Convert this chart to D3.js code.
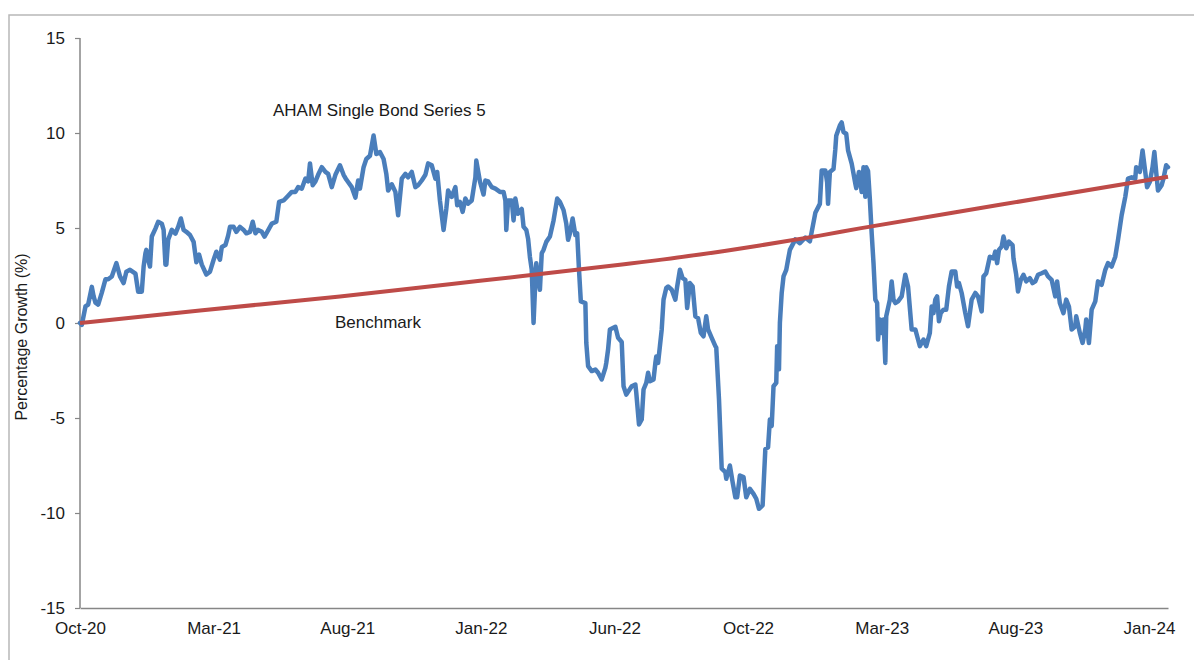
<!DOCTYPE html>
<html>
<head>
<meta charset="utf-8">
<script src="https://cdn.jsdelivr.net/npm/d3@7/dist/d3.min.js"></script>
<style>
  html, body { margin: 0; padding: 0; background: #fff; }
  svg { display: block; font-family: "Liberation Sans", Arial, sans-serif; }
</style>
</head>
<body>
<svg id="chart" width="1194" height="660"></svg>
<script>
// ---------------- DATA ----------------
const startDate = "2020-10-23";   // first observation (day 0)
const endDay = 1197;              // last observation (days after start)

// AHAM Single Bond Series 5: days since start
const fundDays = [
  0, 2, 6, 9, 13, 15, 17, 20, 24, 28,
  31, 35, 40, 44, 48, 51, 55, 61, 64, 68,
  70, 72, 73, 75, 77, 79, 83, 86, 90, 92,
  94, 95, 97, 101, 105, 108, 111, 114, 117, 121,
  125, 128, 131, 134, 139, 143, 147, 150, 154, 156,
  160, 163, 165, 169, 172, 176, 180, 183, 187, 190,
  193, 196, 200, 203, 206, 211, 216, 219, 224, 229,
  233, 237, 240, 244, 248, 251, 253, 256, 259, 262,
  266, 270, 273, 277, 281, 286, 290, 293, 299, 303,
  306, 308, 312, 315, 319, 323, 326, 330, 334, 337,
  339, 343, 347, 350, 354, 358, 361, 365, 369, 372,
  376, 380, 383, 387, 391, 393, 396, 400, 403, 405,
  409, 413, 415, 418, 421, 424, 427, 431, 435, 436,
  440, 444, 446, 449, 453, 457, 462, 466, 468, 469,
  471, 475, 477, 479, 482, 486, 488, 491, 493, 495,
  497, 499, 501, 502, 504, 506, 508, 510, 513, 517,
  521, 525, 528, 532, 535, 537, 539, 542, 545, 547,
  549, 551, 556, 557, 559, 563, 567, 570, 574, 578,
  579, 581, 583, 589, 592, 596, 598, 601, 607, 611,
  612, 615, 618, 620, 623, 625, 627, 631, 633, 634,
  636, 638, 640, 642, 645, 647, 651, 655, 657, 660,
  663, 666, 668, 671, 674, 677, 680, 683, 686, 689,
  691, 695, 699, 700, 703, 706, 710, 711, 715, 718,
  721, 723, 726, 730, 733, 737, 741, 744, 747, 751,
  754, 757, 759, 761, 763, 766, 767, 769, 770, 772,
  774, 777, 779, 781, 787, 792, 798, 803, 809, 814,
  816, 820, 822, 823, 825, 829, 831, 832, 836, 838,
  840, 843, 845, 849, 853, 854, 857, 860, 862, 864,
  865, 867, 869, 871, 873, 875, 877, 878, 880, 882,
  884, 886, 887, 891, 893, 895, 897, 900, 904, 908,
  911, 915, 919, 922, 924, 928, 931, 935, 937, 939,
  941, 943, 945, 947, 950, 953, 956, 959, 963, 965,
  967, 970, 974, 977, 981, 985, 988, 992, 994, 997,
  1001, 1005, 1007, 1009, 1011, 1014, 1016, 1019, 1022, 1026,
  1027, 1030, 1032, 1035, 1038, 1041, 1045, 1048, 1051, 1054,
  1058, 1062, 1065, 1069, 1073, 1075, 1078, 1082, 1085, 1088,
  1091, 1095, 1096, 1100, 1103, 1106, 1107, 1110, 1113, 1117,
  1120, 1124, 1128, 1131, 1135, 1139, 1142, 1146, 1150, 1153,
  1157, 1161, 1162, 1166, 1169, 1172, 1174, 1177, 1180, 1182,
  1184, 1186, 1190, 1192, 1195, 1197
];
// AHAM Single Bond Series 5: percentage growth (%)
const fundValues = [
  0.0, -0.1, 0.87, 0.97, 1.9, 1.4, 1.07, 0.97, 1.6, 2.3,
  2.3, 2.45, 3.15, 2.45, 2.1, 2.7, 2.8, 2.6, 1.65, 1.65,
  2.97, 3.67, 3.85, 3.33, 2.97, 4.55, 4.97, 5.33, 5.23, 4.9,
  3.07, 3.07, 4.38, 4.9, 4.7, 5.06, 5.5, 4.9, 4.8, 4.63,
  4.27, 3.2, 3.6, 3.07, 2.55, 2.7, 3.33, 3.75, 3.33, 4.0,
  4.1, 4.6, 5.06, 5.06, 4.8, 5.06, 4.9, 4.72, 4.8, 5.33,
  4.72, 4.9, 4.8, 4.55, 4.8, 5.23, 5.33, 6.37, 6.45, 6.7,
  6.9, 6.9, 7.15, 7.07, 7.6, 7.45, 8.4, 7.25, 7.45, 7.8,
  8.2, 7.95, 7.85, 7.15, 7.8, 8.3, 7.8, 7.55, 7.15, 6.6,
  7.5, 7.07, 8.2, 8.63, 8.8, 9.87, 8.9, 9.0, 8.63, 7.85,
  6.97, 7.3, 6.9, 5.67, 7.6, 7.85, 7.67, 7.95, 7.15, 7.25,
  7.5, 7.8, 8.4, 8.3, 7.6, 7.95, 6.45, 4.9, 6.0, 6.97,
  6.64, 7.15, 6.2, 6.37, 5.85, 6.55, 6.28, 6.45, 7.67, 8.55,
  7.45, 6.76, 7.5, 7.45, 7.15, 7.07, 6.9, 6.9, 6.45, 4.9,
  6.45, 6.45, 5.4, 6.55, 5.75, 6.0, 5.06, 4.9, 4.43, 3.47,
  2.8, 0.0, 2.27, 3.15, 2.27, 1.75, 3.67, 3.85, 4.27, 4.55,
  5.4, 6.55, 6.37, 5.94, 5.23, 4.38, 4.72, 5.5, 4.63, 4.72,
  2.8, 1.14, 1.05, -1.04, -2.27, -2.53, -2.45, -2.62, -2.97, -2.36,
  -2.1, -1.39, -0.34, -0.2, -0.78, -1.0, -3.33, -3.77, -3.33, -3.24,
  -3.67, -5.34, -5.08, -3.5, -3.15, -2.62, -3.07, -2.97, -2.1, -1.76,
  -2.1, -1.22, -0.34, 1.23, 1.84, 1.92, 1.75, 1.23, 1.92, 2.8,
  2.36, 2.27, 0.79, 2.1, 1.92, 0.35, 0.26, -0.52, -0.7, 0.35,
  -0.34, -0.78, -1.22, -1.3, -4.0, -7.67, -7.85, -8.2, -7.5, -8.38,
  -9.17, -9.17, -8.03, -8.11, -9.17, -8.73, -8.99, -9.25, -9.78, -9.6,
  -6.64, -6.55, -5.08, -5.42, -3.33, -3.15, -1.22, -2.44, 0.0, 1.58,
  2.45, 2.8, 3.33, 3.85, 4.4, 4.2, 4.5, 4.3, 5.8, 6.27,
  8.03, 8.03, 7.4, 6.27, 7.95, 8.1, 9.15, 9.85, 10.4, 10.56,
  10.05, 9.96, 9.09, 8.39, 7.34, 7.1, 7.95, 6.9, 8.2, 6.64,
  8.2, 8.0, 6.5, 4.72, 3.15, 1.23, 1.05, -0.87, 0.18, -0.52,
  0.18, -2.1, 0.35, 1.23, 2.19, 1.23, 1.05, 1.14, 1.4, 2.54,
  1.92, -0.34, -0.34, -0.87, -1.22, -0.87, -1.22, -0.52, 0.87, 0.52,
  1.23, 1.4, 0.09, 0.52, 0.7, 0.7, 1.92, 2.71, 2.71, 1.92,
  2.1, 1.58, 0.52, -0.17, 1.23, 1.58, 1.4, 0.61, 2.45, 2.62,
  3.49, 3.4, 3.76, 3.15, 3.85, 4.02, 4.55, 3.93, 4.28, 4.1,
  3.4, 2.54, 1.66, 2.27, 2.54, 2.19, 2.36, 2.1, 2.19, 2.54,
  2.62, 2.71, 2.45, 2.27, 1.4, 2.19, 1.05, 0.52, 1.23, 0.87,
  -0.34, -0.17, 0.35, -0.52, -1.05, -0.34, 0.18, -1.05, 0.7, 1.14,
  2.19, 2.01, 2.8, 3.15, 2.97, 3.49, 4.38, 5.67, 6.64, 7.6,
  7.67, 7.6, 8.2, 7.95, 9.08, 7.95, 7.15, 7.42, 8.2, 9.0,
  7.95, 6.97, 7.25, 7.6, 8.3, 8.2
];

// Benchmark: days since start and percentage growth (%)
const benchDays   = [0, 132, 286, 440, 594, 682, 748, 814, 858, 1012, 1197];
const benchValues = [0, 0.66, 1.40, 2.22, 3.06, 3.60, 4.08, 4.60, 4.98, 6.22, 7.70];

// Axis ticks
const xTickDates  = ["2020-10-23", "2021-03-19", "2021-08-13", "2022-01-07", "2022-06-03",
                     "2022-10-28", "2023-03-24", "2023-08-18", "2024-01-12"];
const xTickLabels = ["Oct-20", "Mar-21", "Aug-21", "Jan-22", "Jun-22",
                     "Oct-22", "Mar-23", "Aug-23", "Jan-24"];
const yTicks = [-15, -10, -5, 0, 5, 10, 15];

const seriesNames = ["AHAM Single Bond Series 5", "Benchmark"];
const yTitle = "Percentage Growth (%)";

// ---------------- CHART ----------------
const parse = d3.utcParse("%Y-%m-%d");
const t0 = parse(startDate);
const dayToDate = d => d3.utcDay.offset(t0, d);

if (fundDays.length !== fundValues.length) console.error("length mismatch", fundDays.length, fundValues.length);

const fund = fundDays.map((d, i) => ({ date: dayToDate(d), value: fundValues[i] }));
const bench = benchDays.map((d, i) => ({ date: dayToDate(d), value: benchValues[i] }));

const svg = d3.select("#chart");

// outer frame
svg.append("rect")
  .attr("x", 9).attr("y", 15)
  .attr("width", 1300).attr("height", 800)
  .attr("fill", "none")
  .attr("stroke", "#b8b8b8")
  .attr("stroke-width", 1.5);

const x = d3.scaleUtc()
  .domain([t0, dayToDate(endDay)])
  .range([80, 1168]);

const y = d3.scaleLinear()
  .domain([-15, 15])
  .range([608, 38]);

const axisColor = "#868686";
const textColor = "#1a1a1a";

// Y axis
const yAxis = svg.append("g")
  .attr("transform", `translate(${x.range()[0]},0)`)
  .call(d3.axisLeft(y).tickValues(yTicks).tickSize(5).tickPadding(10).tickFormat(d => String(d)));
yAxis.select(".domain").attr("stroke", axisColor).attr("stroke-width", 1.5).attr("d", `M0,${y(15)}V${y(-15)}`);
yAxis.selectAll(".tick line").attr("stroke", axisColor).attr("stroke-width", 1.2);
yAxis.selectAll(".tick text")
  .attr("fill", textColor)
  .style("font-size", "17px")
  .style("font-family", "'Liberation Sans', Arial, sans-serif");

// X axis (at y = -15)
const tickDateObjs = xTickDates.map(parse);
const xAxis = svg.append("g")
  .attr("transform", `translate(0,${y(-15)})`)
  .call(d3.axisBottom(x).tickValues(tickDateObjs).tickSize(0).tickPadding(14)
    .tickFormat((d, i) => xTickLabels[i]));
xAxis.select(".domain").attr("stroke", axisColor).attr("stroke-width", 1.5);
xAxis.selectAll(".tick text")
  .attr("fill", textColor)
  .style("font-size", "17px")
  .style("font-family", "'Liberation Sans', Arial, sans-serif");

// Y axis title
svg.append("text")
  .attr("transform", `translate(27,337) rotate(-90)`)
  .attr("text-anchor", "middle")
  .attr("fill", textColor)
  .style("font-size", "16px")
  .text(yTitle);

// Lines
const line = d3.line()
  .x(d => x(d.date))
  .y(d => y(d.value));

svg.append("path")
  .datum(fund)
  .attr("fill", "none")
  .attr("stroke", "#4a7ebb")
  .attr("stroke-width", 4.5)
  .attr("stroke-linejoin", "round")
  .attr("stroke-linecap", "round")
  .attr("d", line);

svg.append("path")
  .datum(bench)
  .attr("fill", "none")
  .attr("stroke", "#be4b48")
  .attr("stroke-width", 4)
  .attr("stroke-linejoin", "round")
  .attr("d", line.curve(d3.curveMonotoneX));

// Series labels
svg.append("text")
  .attr("x", 273).attr("y", 116)
  .attr("fill", textColor)
  .style("font-size", "17px")
  .text(seriesNames[0]);

svg.append("text")
  .attr("x", 335).attr("y", 328)
  .attr("fill", textColor)
  .style("font-size", "17px")
  .text(seriesNames[1]);
</script>
</body>
</html>
